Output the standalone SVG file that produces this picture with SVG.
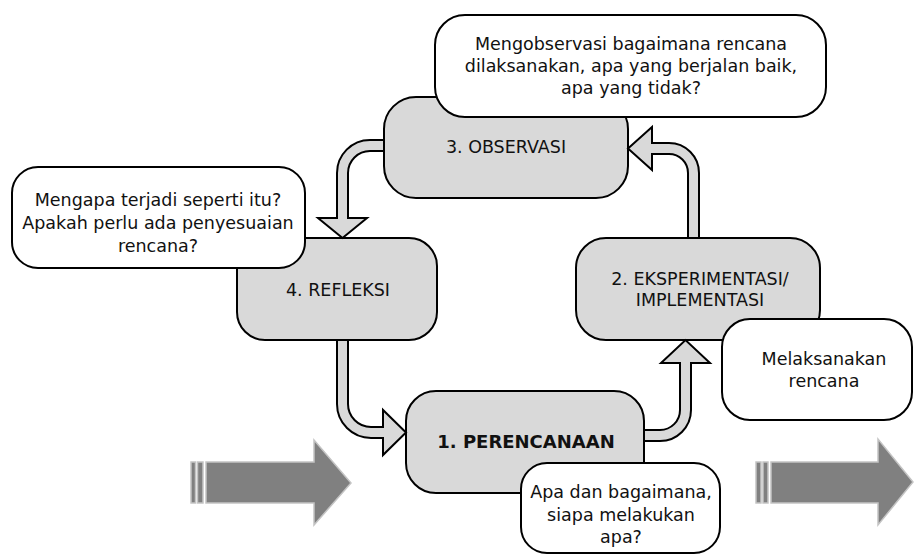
<svg xmlns="http://www.w3.org/2000/svg" width="915" height="557" viewBox="0 0 915 557">
  <style>
    .step { fill: #d9d9d9; stroke: #000; stroke-width: 2; }
    .note { fill: #fff; stroke: #000; stroke-width: 2; }
    .flow { fill: #d9d9d9; stroke: #000; stroke-width: 2; stroke-linejoin: miter; }
    .big { fill: #808080; stroke: #c4c4c4; stroke-width: 1.5; }
    text { font-family: "DejaVu Sans", Verdana, sans-serif; font-size: 17.5px; fill: #111; text-anchor: middle; }
    .bold { font-weight: bold; font-size: 18px; }
  </style>

  <!-- incoming / outgoing striped arrows -->
  <g id="arrow-in">
    <rect class="big" x="191" y="462" width="4.5" height="41"/>
    <rect class="big" x="197.5" y="462" width="5.5" height="41"/>
    <polygon class="big" points="206,462 314,462 314,440 351,483 314,525 314,503 206,503"/>
  </g>
  <g id="arrow-out">
    <rect class="big" x="756" y="462" width="5" height="41"/>
    <rect class="big" x="763" y="462" width="5" height="41"/>
    <polygon class="big" points="771,462 878,462 878,439 913,482 878,525 878,503 771,503"/>
  </g>

  <!-- cycle steps -->
  <g id="step-observasi">
    <rect class="step" x="384" y="97" width="244" height="101" rx="32"/>
    <text x="506" y="153">3. OBSERVASI</text>
  </g>
  <g id="step-refleksi">
    <rect class="step" x="237" y="238" width="200" height="102" rx="28"/>
    <text x="338" y="296">4. REFLEKSI</text>
  </g>
  <g id="step-eksperimentasi">
    <rect class="step" x="576" y="238" width="244" height="102" rx="30"/>
    <text x="700" y="285">2. EKSPERIMENTASI/</text>
    <text x="700" y="306">IMPLEMENTASI</text>
  </g>
  <g id="step-perencanaan">
    <rect class="step" x="406" y="391" width="238" height="102" rx="30"/>
    <text class="bold" x="526" y="448">1. PERENCANAAN</text>
  </g>

  <!-- curved block connectors between steps -->
  <g id="connectors">
    <path class="flow" d="M384,140 H370 A33 33 0 0 0 337,173 V218 H318 L342.5,238 L367,218 H348 V173 A22 22 0 0 1 370,151 H384 Z"/>
    <path class="flow" d="M337,340 V404 A34 34 0 0 0 371,438 H383 V455 L406,432.5 L383,410 V427 H371 A23 23 0 0 1 348,404 V340 Z"/>
    <path class="flow" d="M644,430 H660 A20 20 0 0 0 680,410 V363 H661 L685.5,340 L710,363 H691 V410 A31 31 0 0 1 660,441 H644 Z"/>
    <path class="flow" d="M688,238 V173 A19 19 0 0 0 669,154 H652 V170 L628,148.5 L652,127 V143 H669 A30 30 0 0 1 699,173 V238 Z"/>
  </g>

  <!-- explanatory notes -->
  <g id="note-observasi">
    <rect class="note" x="435" y="15" width="391" height="102" rx="30"/>
    <text x="631" y="50">Mengobservasi bagaimana rencana</text>
    <text x="631" y="72">dilaksanakan, apa yang berjalan baik,</text>
    <text x="631" y="94">apa yang tidak?</text>
  </g>
  <g id="note-refleksi">
    <rect class="note" x="12" y="167" width="293" height="101" rx="26"/>
    <text x="158" y="206">Mengapa terjadi seperti itu?</text>
    <text x="158" y="229">Apakah perlu ada penyesuaian</text>
    <text x="158" y="252">rencana?</text>
  </g>
  <g id="note-eksperimentasi">
    <rect class="note" x="722" y="319" width="190" height="101" rx="28"/>
    <text x="824" y="365">Melaksanakan</text>
    <text x="824" y="387">rencana</text>
  </g>
  <g id="note-perencanaan">
    <rect class="note" x="521" y="463" width="199" height="90" rx="26"/>
    <text x="621" y="498">Apa dan bagaimana,</text>
    <text x="621" y="521">siapa melakukan</text>
    <text x="621" y="543">apa?</text>
  </g>
</svg>
